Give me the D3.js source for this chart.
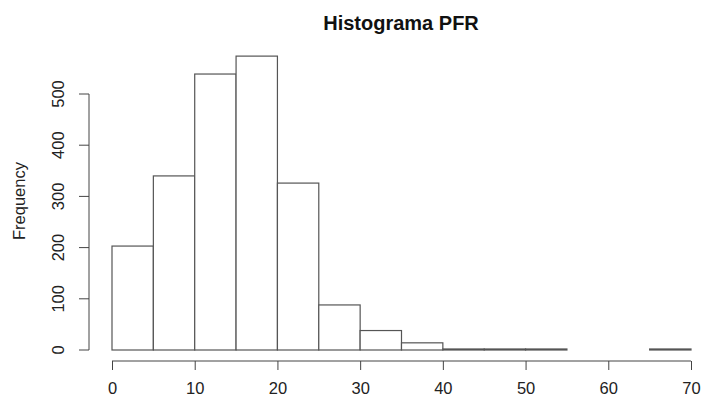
<!DOCTYPE html>
<html>
<head>
<meta charset="utf-8">
<script src="https://cdn.jsdelivr.net/npm/d3@7"></script>
<style>
  body { margin: 0; background: #fff; }
  svg { display: block; font-family: "Liberation Sans", Arial, sans-serif; }
</style>
</head>
<body>
<div id="chart"></div>
<script>
// histogram bins (left edges) and counts
var binStarts = [0, 5, 10, 15, 20, 25, 30, 35, 40, 45, 50, 55, 60, 65];
var binWidth = 5;
var counts = [203, 340, 539, 574, 326, 88, 38, 14, 2, 2, 2, 0, 0, 2];
var xTicks = [0, 10, 20, 30, 40, 50, 60, 70];
var yTicks = [0, 100, 200, 300, 400, 500];

var width = 703, height = 400;
var fontSize = 16.5;

var x = d3.scaleLinear().domain([0, 70]).range([112, 691]);
var y = d3.scaleLinear().domain([0, 500]).range([350, 94]);

var svg = d3.select('#chart').append('svg')
  .attr('width', width)
  .attr('height', height);

// bars
svg.append('g').selectAll('rect')
  .data(counts)
  .enter().append('rect')
  .attr('x', function(d, i) { return x(binStarts[i]); })
  .attr('width', function(d, i) { return x(binStarts[i] + binWidth) - x(binStarts[i]); })
  .attr('y', function(d) { return y(d); })
  .attr('height', function(d) { return y(0) - y(d); })
  .attr('fill', '#fff')
  .attr('stroke', '#555')
  .attr('stroke-width', 1.2);

// x axis
var xAxis = svg.append('g')
  .attr('transform', 'translate(0,361)')
  .call(d3.axisBottom(x).tickValues(xTicks).tickSize(9).tickPadding(0).tickSizeOuter(0));
xAxis.select('.domain').attr('d', 'M' + x(0) + ',0H' + x(70)).attr('stroke', '#444');
xAxis.selectAll('line').attr('stroke', '#444');
xAxis.selectAll('text')
  .attr('font-size', fontSize).attr('fill', '#222')
  .attr('font-family', '"Liberation Sans", Arial, sans-serif')
  .attr('y', 27).attr('dy', '0.35em');

// y axis
var yAxis = svg.append('g')
  .attr('transform', 'translate(89,0)')
  .call(d3.axisLeft(y).tickValues(yTicks).tickSize(10).tickSizeOuter(0));
yAxis.select('.domain').attr('d', 'M0,' + y(0) + 'V' + y(500)).attr('stroke', '#444');
yAxis.selectAll('line').attr('stroke', '#444');
yAxis.selectAll('.tick').attr('transform', null);
yAxis.selectAll('.tick line').attr('transform', function(d) { return 'translate(0,' + y(d) + ')'; });
yAxis.selectAll('text')
  .attr('font-size', fontSize).attr('fill', '#222')
  .attr('font-family', '"Liberation Sans", Arial, sans-serif')
  .attr('x', 0).attr('y', 0).attr('dy', '0.35em')
  .attr('text-anchor', 'middle')
  .attr('transform', function(d) { return 'translate(-31,' + y(d) + ') rotate(-90)'; });

// labels
svg.append('text')
  .attr('transform', 'translate(19,201) rotate(-90)')
  .attr('text-anchor', 'middle')
  .attr('dy', '0.35em')
  .attr('font-size', fontSize)
  .attr('fill', '#222')
  .text('Frequency');

svg.append('text')
  .attr('x', 401).attr('y', 30)
  .attr('text-anchor', 'middle')
  .attr('font-size', 20)
  .attr('font-weight', 'bold')
  .attr('fill', '#111')
  .text('Histograma PFR');
</script>
</body>
</html>
